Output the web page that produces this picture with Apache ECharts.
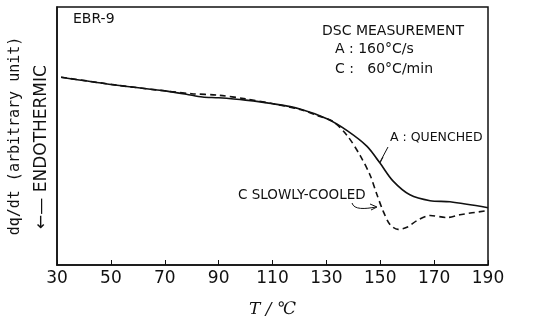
<!DOCTYPE html>
<html>
<head>
<meta charset="utf-8">
<script src="https://cdn.jsdelivr.net/npm/echarts@6/dist/echarts.min.js"></script>
<style>
  html, body { margin: 0; padding: 0; background: #fff; }
  #chart { width: 548px; height: 323px; }
</style>
</head>
<body>
<div id="chart"></div>
<script>
// temperature ticks (degC)
const xTicks = [30, 50, 70, 90, 110, 130, 150, 170, 190]

// A: quenched (160 degC/s) -- [T, signal]
const quenched = [
  [31.5, 72.8], [52.3, 69.7], [70.8, 67.4], [78, 66.2], [84, 65.1],
  [90, 64.8], [100, 63.9], [110.2, 62.5], [120.2, 60.5], [130.2, 56.7],
  [137.7, 52.1], [145.1, 46.0], [149.9, 39.5], [154.7, 32.6], [161.0, 27.2],
  [168.5, 24.9], [175.9, 24.5], [190, 22.2]
]

// C: slowly cooled (60 degC/min)
const slowCooled = [
  [31.5, 72.8], [52.3, 69.7], [70.8, 67.4], [80, 66.4], [90, 65.8], [100, 64.4],
  [110.2, 62.5], [120.2, 60.3], [127, 57.8], [132.5, 55.6], [137.7, 50.2],
  [142.5, 42.5], [146.2, 34.9], [148.8, 27.2], [151.0, 21.1], [153.6, 15.7],
  [156.6, 13.8], [159.9, 14.6], [163.6, 17.2], [168.5, 19.2], [174.8, 18.4],
  [179.6, 19.5], [190, 21.1]
]

const chart = echarts.init(document.getElementById('chart'))
const font = 'DejaVu Sans'

chart.setOption({
  animation: false,
  grid: { left: 57, right: 60, top: 7, bottom: 55, show: true, borderColor: '#111', borderWidth: 1.5 },
  xAxis: {
    type: 'value', min: 30, max: 190, interval: 20,
    name: 'T / ℃', nameLocation: 'middle', nameGap: 36,
    nameTextStyle: { fontFamily: 'DejaVu Serif', fontStyle: 'italic', fontSize: 17, color: '#111' },
    axisLine: { lineStyle: { color: '#111', width: 1.5 } },
    axisTick: { inside: true, length: 5, lineStyle: { color: '#111' } },
    axisLabel: {
      color: '#111', fontFamily: font, fontSize: 17, margin: 5,
      formatter: v => xTicks.includes(v) ? String(v) : ''
    },
    splitLine: { show: false }
  },
  yAxis: {
    type: 'value', min: 0, max: 100,
    name: 'dq/dt (arbitrary unit)', nameLocation: 'middle', nameGap: 34, nameRotate: 90,
    nameTextStyle: { fontFamily: 'DejaVu Sans Mono', fontSize: 15, color: '#111' },
    axisLine: { lineStyle: { color: '#111', width: 1.5 } },
    axisTick: { show: false },
    axisLabel: { show: false },
    splitLine: { show: false }
  },
  series: [
    {
      name: 'A: QUENCHED', type: 'line', data: quenched, smooth: 0.3, showSymbol: false,
      lineStyle: { color: '#111', width: 1.6 }
    },
    {
      name: 'C SLOWLY-COOLED', type: 'line', data: slowCooled, smooth: 0.3, showSymbol: false,
      lineStyle: { color: '#111', width: 1.6, type: [6, 4] }
    }
  ],
  graphic: [
    { type: 'text', left: 73, top: 12, style: { text: 'EBR-9', font: '14px DejaVu Sans', fill: '#111' } },
    { type: 'text', left: 322, top: 24, style: { text: 'DSC MEASUREMENT', font: '14px DejaVu Sans', fill: '#111' } },
    { type: 'text', left: 335, top: 42, style: { text: 'A : 160°C/s', font: '14px DejaVu Sans', fill: '#111' } },
    { type: 'text', left: 335, top: 62, style: { text: 'C :   60°C/min', font: '14px DejaVu Sans', fill: '#111' } },
    { type: 'text', left: 390, top: 131, style: { text: 'A : QUENCHED', font: '12.5px DejaVu Sans', fill: '#111' } },
    { type: 'text', left: 238, top: 188, style: { text: 'C SLOWLY-COOLED', font: '13.5px DejaVu Sans', fill: '#111' } },
    // ENDOTHERMIC with arrow, rotated
    {
      type: 'text', x: 42, y: 147, rotation: Math.PI / 2,
      style: { text: '←— ENDOTHERMIC', font: '17px DejaVu Sans', fill: '#111', align: 'center', verticalAlign: 'middle' }
    },
    // leader arrows
    { type: 'line', shape: { x1: 388, y1: 147, x2: 380, y2: 162 }, style: { stroke: '#111', lineWidth: 1 } },
    { type: 'polyline', shape: { points: [[376, 158], [380, 163], [383, 157]] }, style: { stroke: '#111', lineWidth: 1, fill: null } },
    {
      type: 'bezierCurve', shape: { x1: 352, y1: 203, cpx1: 354, cpy1: 210, x2: 376, y2: 207, cpx2: 365, cpy2: 209 },
      style: { stroke: '#111', lineWidth: 1, fill: null }
    },
    { type: 'polyline', shape: { points: [[370, 204], [377, 207], [371, 210]] }, style: { stroke: '#111', lineWidth: 1, fill: null } }
  ]
})
</script>
</body>
</html>
